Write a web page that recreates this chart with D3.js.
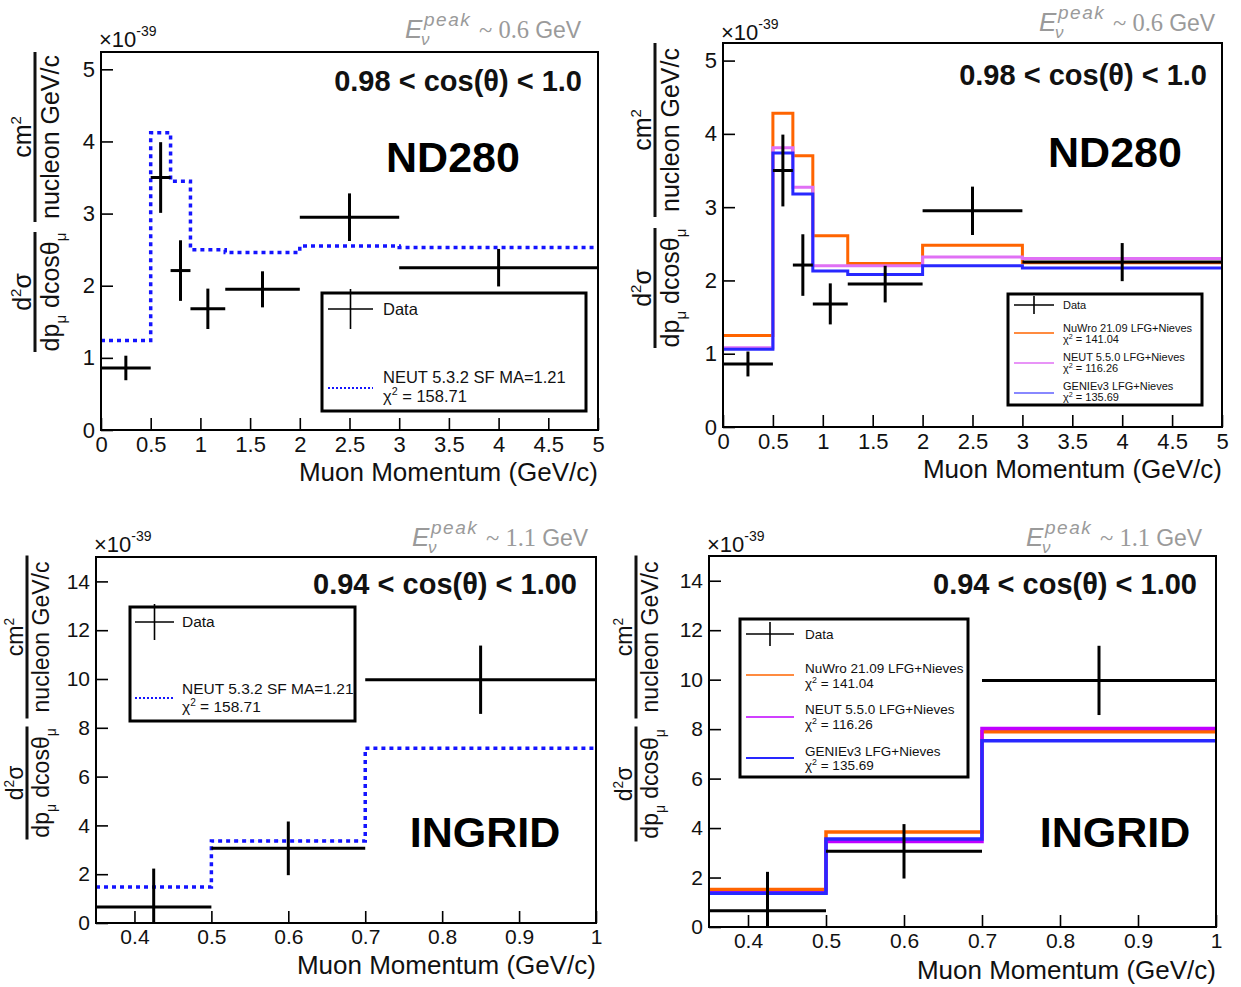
<!DOCTYPE html>
<html><head><meta charset="utf-8">
<script src="https://cdn.jsdelivr.net/npm/d3@7"></script>
<style>
body{margin:0;background:#fff;}
svg{display:block;}
text{font-family:"Liberation Sans",Arial,Helvetica,sans-serif;}
</style>
</head><body>
<svg id="c" width="1241" height="987"></svg>
<script>
// ---------------- DATA ----------------
// ND280, 0.98 < cos(theta) < 1.0
const ndBinEdges = [0, 0.5, 0.7, 0.9, 1.25, 2.0, 3.0, 5.0];
const ndData     = [0.86, 3.50, 2.21, 1.68, 1.95, 2.95, 2.25];
const ndDataErr  = [0.17, 0.49, 0.42, 0.28, 0.25, 0.33, 0.26];
const ndNeut532  = [1.24, 4.12, 3.45, 2.50, 2.46, 2.55, 2.53];
const ndNuWro    = [1.25, 4.28, 3.70, 2.61, 2.23, 2.48, 2.24];
const ndNeut550  = [1.08, 3.81, 3.27, 2.20, 2.20, 2.32, 2.30];
const ndGenie    = [1.06, 3.74, 3.18, 2.13, 2.08, 2.20, 2.17];
// INGRID, 0.94 < cos(theta) < 1.00
const ingBinEdges = [0.35, 0.5, 0.7, 1.0];
const ingData     = [0.66, 3.06, 9.97];
const ingDataErr  = [1.57, 1.10, 1.40];
const ingNeut532  = [1.48, 3.36, 7.16];
const ingNuWro    = [1.52, 3.84, 7.89];
const ingNeut550  = [1.38, 3.46, 8.03];
const ingGenie    = [1.36, 3.56, 7.53];
// labels
const legendNeut532 = ["NEUT 5.3.2 SF MA=1.21", "158.71"];
const legendNuWro   = ["NuWro 21.09 LFG+Nieves", "141.04"];
const legendNeut550 = ["NEUT 5.5.0 LFG+Nieves", "116.26"];
const legendGenie   = ["GENIEv3 LFG+Nieves", "135.69"];
const ndTicksX  = [0,0.5,1,1.5,2,2.5,3,3.5,4,4.5,5];
const ndTicksY  = [0,1,2,3,4,5];
const ingTicksX = [0.4,0.5,0.6,0.7,0.8,0.9,1];
const ingTicksY = [0,2,4,6,8,10,12,14];

// ---------------- DRAW ----------------
const svg = d3.select("#c");
let clipId = 0;

function range(a, b, s) { const out = []; for (let v = a; v <= b + 1e-9; v += s) out.push(+v.toFixed(4)); return out; }

function drawPanel(p) {
  const g = svg.append("g");
  const x = d3.scaleLinear().domain(p.xDomain).range([p.x0, p.x1]);
  const y = d3.scaleLinear().domain(p.yDomain).range([p.y1, p.y0]);
  const id = "clip" + (clipId++);
  svg.append("clipPath").attr("id", id).append("rect")
    .attr("x", p.x0).attr("y", p.y0).attr("width", p.x1 - p.x0).attr("height", p.y1 - p.y0);
  const inner = g.append("g").attr("clip-path", `url(#${id})`);

  // model histograms
  const line = d3.line().x(d => x(d[0])).y(d => y(d[1])).curve(d3.curveStepAfter);
  p.models.forEach(m => {
    const pts = m.values.map((v, i) => [p.edges[i], v]);
    pts.push([p.edges[p.edges.length - 1], m.values[m.values.length - 1]]);
    inner.append("path").attr("d", line(pts)).attr("fill", "none")
      .attr("stroke", m.color).attr("stroke-width", m.width)
      .attr("stroke-dasharray", m.dash || null);
  });
  // data points
  p.data.forEach((v, i) => {
    const lo = p.edges[i], hi = p.edges[i + 1], c = (lo + hi) / 2, e = p.err[i];
    inner.append("line").attr("x1", x(lo)).attr("x2", x(hi)).attr("y1", y(v)).attr("y2", y(v))
      .attr("stroke", "#000").attr("stroke-width", 3);
    inner.append("line").attr("x1", x(c)).attr("x2", x(c)).attr("y1", y(Math.max(0, v - e))).attr("y2", y(v + e))
      .attr("stroke", "#000").attr("stroke-width", 3);
  });

  // axes (ROOT style, inward ticks)
  const ax = g.append("g").attr("transform", `translate(0,${p.y1})`);
  ax.call(d3.axisBottom(x).tickValues(p.xMinor).tickSize(-6).tickFormat(""));
  ax.call(d3.axisBottom(x).tickValues(p.xTicks).tickSize(-12).tickPadding(6).tickFormat(d3.format("~g")));
  ax.select(".domain").remove();
  ax.selectAll("line").attr("stroke", "#000").attr("stroke-width", 1.6);
  ax.selectAll("text").attr("font-size", p.tickFs).attr("fill", "#111").attr("font-family", "Liberation Sans, Arial, sans-serif");

  const ay = g.append("g").attr("transform", `translate(${p.x0},0)`);
  ay.call(d3.axisLeft(y).tickValues(p.yMinor).tickSize(-6).tickFormat(""));
  ay.call(d3.axisLeft(y).tickValues(p.yTicks).tickSize(-12).tickPadding(6).tickFormat(d3.format("~g")));
  ay.select(".domain").remove();
  ay.selectAll("line").attr("stroke", "#000").attr("stroke-width", 1.6);
  ay.selectAll("text").attr("font-size", p.tickFs).attr("fill", "#111").attr("font-family", "Liberation Sans, Arial, sans-serif");

  // frame
  g.append("rect").attr("x", p.x0).attr("y", p.y0).attr("width", p.x1 - p.x0).attr("height", p.y1 - p.y0)
    .attr("fill", "none").attr("stroke", "#000").attr("stroke-width", 2);

  // x10^-39
  const ex = g.append("text").attr("x", p.x0 - 2).attr("y", p.expY).attr("font-size", 22).attr("fill", "#111");
  ex.append("tspan").text("×10");
  ex.append("tspan").attr("dy", -11).attr("font-size", 14).text("-39");

  // x title
  g.append("text").attr("x", p.x1).attr("y", p.xTitleY).attr("text-anchor", "end")
    .attr("font-size", 26).attr("fill", "#111").text("Muon Momentum (GeV/c)");

  // cos label
  g.append("text").attr("x", p.cosX).attr("y", p.cosY).attr("text-anchor", "end")
    .attr("font-size", 29).attr("font-weight", "bold").attr("fill", "#111").text(p.cosText);
  // detector label
  g.append("text").attr("x", p.detX).attr("y", p.detY).attr("text-anchor", "middle")
    .attr("font-size", 43).attr("font-weight", "bold").attr("fill", "#000").text(p.detText);

  yTitle(p.yt);
  eLabel(p.eX, p.eY, p.eVal);
  legend(p.leg);
}

function yTitle(t) {
  const fs = t.fs;
  const gl = svg.append("g").attr("transform", `translate(${t.bar},${t.lowC}) rotate(-90)`);
  gl.append("line").attr("x1", -t.lowLen / 2).attr("x2", t.lowLen / 2).attr("stroke", "#111").attr("stroke-width", 3);
  const n1 = gl.append("text").attr("text-anchor", "middle").attr("y", -4).attr("font-size", fs).attr("fill", "#111");
  n1.append("tspan").text("d");
  n1.append("tspan").attr("dy", -fs * 0.4).attr("font-size", fs * 0.6).text("2");
  n1.append("tspan").attr("dy", fs * 0.4).text("σ");
  const d1 = gl.append("text").attr("text-anchor", "middle").attr("y", fs * 0.95).attr("font-size", fs).attr("fill", "#111");
  d1.append("tspan").text("dp");
  d1.append("tspan").attr("dy", fs * 0.3).attr("font-size", fs * 0.6).text("μ");
  d1.append("tspan").attr("dy", -fs * 0.3).text(" dcosθ");
  d1.append("tspan").attr("dy", fs * 0.3).attr("font-size", fs * 0.6).text("μ");

  const gu = svg.append("g").attr("transform", `translate(${t.bar},${t.upC}) rotate(-90)`);
  gu.append("line").attr("x1", -t.upLen / 2).attr("x2", t.upLen / 2).attr("stroke", "#111").attr("stroke-width", 3);
  const n2 = gu.append("text").attr("text-anchor", "middle").attr("y", -4).attr("font-size", fs).attr("fill", "#111");
  n2.append("tspan").text("cm");
  n2.append("tspan").attr("dy", -fs * 0.4).attr("font-size", fs * 0.6).text("2");
  gu.append("text").attr("text-anchor", "middle").attr("y", fs * 0.95).attr("font-size", fs).attr("fill", "#111")
    .text("nucleon GeV/c");
}

function eLabel(x0, yb, val) {
  const g = svg.append("g").attr("fill", "#9a9a9a");
  g.append("text").attr("x", x0).attr("y", yb).attr("font-family", "Liberation Serif, serif")
    .attr("font-style", "italic").attr("font-size", 26).text("E");
  g.append("text").attr("x", x0 + 19).attr("y", yb - 12).attr("font-family", "Liberation Serif, serif")
    .attr("font-style", "italic").attr("font-size", 19).attr("letter-spacing", 1.5).text("peak");
  g.append("text").attr("x", x0 + 16).attr("y", yb + 7).attr("font-family", "Liberation Serif, serif")
    .attr("font-style", "italic").attr("font-size", 17).text("ν");
  const t = g.append("text").attr("x", x0 + 74).attr("y", yb).attr("font-size", 24.5);
  t.append("tspan").attr("font-family", "Liberation Serif, serif").text("~ " + val + " ");
  t.append("tspan").attr("font-family", "Liberation Sans, Arial, sans-serif").attr("font-size", 23).text("GeV");
}

function chiText(sel, x, y, fs, val) {
  const t = sel.append("text").attr("x", x).attr("y", y).attr("font-size", fs).attr("fill", "#111");
  t.append("tspan").text("χ");
  t.append("tspan").attr("dy", -fs * 0.4).attr("font-size", fs * 0.65).text("2");
  t.append("tspan").attr("dy", fs * 0.4).text(" = " + val);
}

function legend(L) {
  const g = svg.append("g");
  g.append("rect").attr("x", L.x0).attr("y", L.y0).attr("width", L.x1 - L.x0).attr("height", L.y1 - L.y0)
    .attr("fill", "#fff").attr("stroke", "#000").attr("stroke-width", 3);
  // data cross
  g.append("line").attr("x1", L.lx0).attr("x2", L.lx1).attr("y1", L.dataY).attr("y2", L.dataY).attr("stroke", "#000").attr("stroke-width", 1.6);
  const cx = (L.lx0 + L.lx1) / 2;
  g.append("line").attr("x1", cx).attr("x2", cx).attr("y1", L.dataY - L.vh).attr("y2", L.dataY + L.vh).attr("stroke", "#000").attr("stroke-width", 1.6);
  g.append("text").attr("x", L.tx).attr("y", L.dataY + L.fs * 0.35).attr("font-size", L.fs).attr("fill", "#111").text("Data");
  L.entries.forEach(e => {
    g.append("line").attr("x1", L.lx0).attr("x2", L.lx1).attr("y1", e.y).attr("y2", e.y)
      .attr("stroke", e.color).attr("stroke-width", e.w).attr("stroke-dasharray", e.dash || null);
    g.append("text").attr("x", L.tx).attr("y", e.y + e.t1).attr("font-size", L.fs).attr("fill", "#111").text(e.label[0]);
    chiText(g, L.tx, e.y + e.t2, L.fs, e.label[1]);
  });
}

const blueDot = "#1414ff";
const cOrange = "#ff6400", cViolet = "#e070f5", cBlue = "#2828ff", cPurple = "#c000ff";

// Top-left
drawPanel({
  x0: 101, x1: 598, y0: 52, y1: 430, xDomain: [0, 5], yDomain: [0, 5.24],
  xTicks: ndTicksX, xMinor: range(0, 5, 0.1), yTicks: ndTicksY, yMinor: range(0, 5.2, 0.2), tickFs: 22,
  edges: ndBinEdges, data: ndData, err: ndDataErr,
  models: [{ values: ndNeut532, color: blueDot, width: 3.5, dash: "4,4" }],
  expY: 47, xTitleY: 481, cosX: 582, cosY: 91, cosText: "0.98 < cos(θ) < 1.0",
  detX: 453, detY: 172, detText: "ND280",
  yt: { bar: 35, lowC: 292, lowLen: 120, upC: 137, upLen: 170, fs: 25 },
  eX: 405, eY: 38, eVal: "0.6",
  leg: { x0: 322, x1: 586, y0: 293, y1: 411, lx0: 328, lx1: 373, dataY: 309, vh: 20, tx: 383, fs: 16.5,
    entries: [{ y: 388, color: blueDot, w: 2, dash: "2,2", label: legendNeut532, t1: -5, t2: 14 }] }
});

// Top-right
drawPanel({
  x0: 723, x1: 1222, y0: 43, y1: 427, xDomain: [0, 5], yDomain: [0, 5.24],
  xTicks: ndTicksX, xMinor: range(0, 5, 0.1), yTicks: ndTicksY, yMinor: range(0, 5.2, 0.2), tickFs: 22,
  edges: ndBinEdges, data: ndData, err: ndDataErr,
  models: [{ values: ndNuWro, color: cOrange, width: 3 },
           { values: ndNeut550, color: cViolet, width: 3 },
           { values: ndGenie, color: cBlue, width: 3 }],
  expY: 40, xTitleY: 478, cosX: 1207, cosY: 85, cosText: "0.98 < cos(θ) < 1.0",
  detX: 1115, detY: 167, detText: "ND280",
  yt: { bar: 655, lowC: 288, lowLen: 120, upC: 130, upLen: 174, fs: 25 },
  eX: 1039, eY: 31, eVal: "0.6",
  leg: { x0: 1008, x1: 1202, y0: 294, y1: 405, lx0: 1014, lx1: 1054, dataY: 305, vh: 9, tx: 1063, fs: 11,
    entries: [{ y: 333, color: cOrange, w: 1.5, label: legendNuWro, t1: -1, t2: 10 },
              { y: 363, color: cViolet, w: 1.5, label: legendNeut550, t1: -2, t2: 9 },
              { y: 393, color: "#6060ff", w: 1.5, label: legendGenie, t1: -3, t2: 8 }] }
});

// Bottom-left
drawPanel({
  x0: 96, x1: 596, y0: 557, y1: 923, xDomain: [0.35, 1.0], yDomain: [0, 15],
  xTicks: ingTicksX, xMinor: range(0.36, 1.0, 0.02), yTicks: ingTicksY, yMinor: range(0, 15, 0.5), tickFs: 21,
  edges: ingBinEdges, data: ingData, err: ingDataErr,
  models: [{ values: ingNeut532, color: blueDot, width: 3.5, dash: "4,4" }],
  expY: 552, xTitleY: 974, cosX: 577, cosY: 594, cosText: "0.94 < cos(θ) < 1.00",
  detX: 485, detY: 847, detText: "INGRID",
  yt: { bar: 27, lowC: 783, lowLen: 113, upC: 637, upLen: 163, fs: 23 },
  eX: 412, eY: 546, eVal: "1.1",
  leg: { x0: 130, x1: 355, y0: 607, y1: 721, lx0: 135, lx1: 174, dataY: 622, vh: 18, tx: 182, fs: 15.5,
    entries: [{ y: 698, color: blueDot, w: 2, dash: "2,2", label: legendNeut532, t1: -4, t2: 14 }] }
});

// Bottom-right
drawPanel({
  x0: 709, x1: 1216, y0: 556, y1: 927, xDomain: [0.35, 1.0], yDomain: [0, 15],
  xTicks: ingTicksX, xMinor: range(0.36, 1.0, 0.02), yTicks: ingTicksY, yMinor: range(0, 15, 0.5), tickFs: 21,
  edges: ingBinEdges, data: ingData, err: ingDataErr,
  models: [{ values: ingNuWro, color: cOrange, width: 3.5 },
           { values: ingNeut550, color: cPurple, width: 3.5 },
           { values: ingGenie, color: cBlue, width: 3.5 }],
  expY: 552, xTitleY: 979, cosX: 1197, cosY: 594, cosText: "0.94 < cos(θ) < 1.00",
  detX: 1115, detY: 847, detText: "INGRID",
  yt: { bar: 636, lowC: 784, lowLen: 115, upC: 637, upLen: 163, fs: 23 },
  eX: 1026, eY: 546, eVal: "1.1",
  leg: { x0: 740, x1: 968, y0: 619, y1: 777, lx0: 746, lx1: 794, dataY: 634, vh: 12, tx: 805, fs: 13.5,
    entries: [{ y: 675, color: cOrange, w: 1.5, label: legendNuWro, t1: -2, t2: 13 },
              { y: 717, color: cPurple, w: 1.5, label: legendNeut550, t1: -3, t2: 12 },
              { y: 758, color: cBlue, w: 2, label: legendGenie, t1: -2, t2: 12 }] }
});
</script>
</body></html>
